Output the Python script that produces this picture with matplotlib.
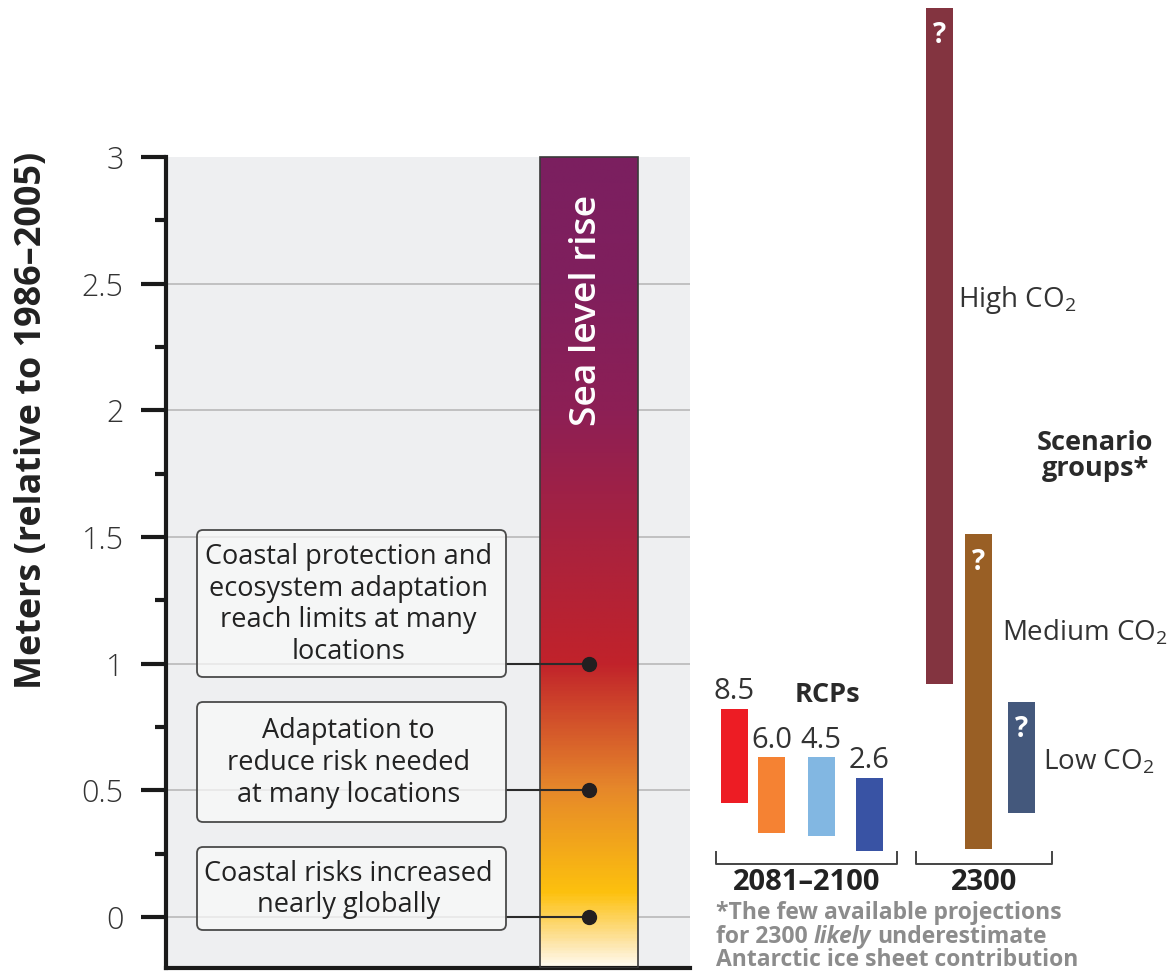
import numpy as np
import matplotlib
matplotlib.use("Agg")
import matplotlib.pyplot as plt
from matplotlib.colors import LinearSegmentedColormap
from matplotlib.patches import Rectangle, FancyBboxPatch
from matplotlib.font_manager import FontProperties

plt.rcParams['font.family'] = ['Open Sans', 'DejaVu Sans']
plt.rcParams['mathtext.fontset'] = 'custom'
plt.rcParams['mathtext.rm'] = 'Open Sans'

# ---- data -------------------------------------------------------------
y_ticks = [0, 0.5, 1, 1.5, 2, 2.5, 3]
y_tick_labels = ["0", "0.5", "1", "1.5", "2", "2.5", "3"]
y_minor = [0.25, 0.75, 1.25, 1.75, 2.25, 2.75]

risk_levels = [1.0, 0.5, 0.0]
risk_texts = [
    "Coastal protection and\necosystem adaptation\nreach limits at many\nlocations",
    "Adaptation to\nreduce risk needed\nat many locations",
    "Coastal risks increased\nnearly globally",
]

rcp_names = ["8.5", "6.0", "4.5", "2.6"]
rcp_low = [0.45, 0.33, 0.32, 0.26]
rcp_high = [0.82, 0.63, 0.63, 0.55]

group_names = ["High CO$_\\mathregular{2}$", "Medium CO$_\\mathregular{2}$", "Low CO$_\\mathregular{2}$"]
group_low = [0.92, 0.27, 0.41]
group_high = [3.59, 1.51, 0.85]

# gradient of the sea-level column: (level in m, colour)
grad_levels = [-0.21, -0.10, 0.09, 0.50, 1.00, 1.50, 2.00, 2.50, 3.00]
grad_colors = ["#fffcf5", "#fde3a0", "#fdc10e", "#e6882a", "#c1222b",
               "#a8223f", "#8d1f55", "#801f5d", "#7b1f60"]

# ---- figure -----------------------------------------------------------
W, H = 1169, 976
fig = plt.figure(figsize=(W / 100, H / 100), dpi=100)
renderer = fig.canvas.get_renderer()

PX_PER_M = 253.33
ZERO_PX = 917.0
AX_LEFT = 165.5
AX_BOTTOM_PX = 968.0
y_bot = (ZERO_PX - AX_BOTTOM_PX) / PX_PER_M
y_top = ZERO_PX / PX_PER_M

ax = fig.add_axes([AX_LEFT / W, (H - AX_BOTTOM_PX) / H, (W - AX_LEFT) / W, AX_BOTTOM_PX / H])
ax.set_xlim(AX_LEFT, W)
ax.set_ylim(y_bot, y_top)
ax.patch.set_alpha(0)

# overlay in pixel units for labels and callout boxes
lay = fig.add_axes([0, 0, 1, 1], zorder=3)
lay.set_xlim(0, W)
lay.set_ylim(H, 0)
lay.axis("off")
lay.patch.set_alpha(0)


def fit_size(s, target_px, **kw):
    prop = FontProperties(size=10, **kw)
    w = renderer.get_text_width_height_descent(s, prop, ismath=False)[0]
    return 10 * target_px / w


# panel background and grid
PANEL_RIGHT = 690
ax.add_patch(Rectangle((AX_LEFT, y_bot), PANEL_RIGHT - AX_LEFT, 3 - y_bot,
                       facecolor="#eeeff1", edgecolor="none", zorder=0))
ax.hlines(y_ticks[:-1], AX_LEFT + 2, PANEL_RIGHT, color="#bdbdbd", lw=1.3, zorder=1)

# axes styling
for side in ("top", "right"):
    ax.spines[side].set_visible(False)
ax.spines["left"].set_linewidth(3.0)
ax.spines["bottom"].set_linewidth(3.0)
ax.spines["left"].set_color("#1a1a1a")
ax.spines["bottom"].set_color("#1a1a1a")
ax.spines["left"].set_bounds(y_bot, 3)
ax.spines["bottom"].set_bounds(AX_LEFT, PANEL_RIGHT)
ax.set_yticks(y_ticks)
ax.set_yticklabels(y_tick_labels)
ax.set_yticks(y_minor, minor=True)
ax.tick_params(axis="y", which="major", length=18, width=3, color="#1a1a1a",
               pad=12, labelsize=22, labelcolor="#333333")
ax.tick_params(axis="y", which="minor", length=8, width=3, color="#1a1a1a")
for lbl in ax.get_yticklabels():
    lbl.set_fontweight("light")
ax.set_xticks([])

# sea-level column with gradient
COL_X0, COL_X1 = 540, 638
span = grad_levels[-1] - grad_levels[0]
cmap = LinearSegmentedColormap.from_list(
    "slr", [((l - grad_levels[0]) / span, c) for l, c in zip(grad_levels, grad_colors)])
vals = np.linspace(y_bot, 3, 600).reshape(-1, 1)
ax.imshow(vals, extent=[COL_X0, COL_X1, y_bot, 3], aspect="auto", origin="lower",
          cmap=cmap, vmin=grad_levels[0], vmax=grad_levels[-1], zorder=2,
          interpolation="bilinear")
ax.add_patch(Rectangle((COL_X0, y_bot), COL_X1 - COL_X0, 3 - y_bot, fill=False,
                       edgecolor="#3a3a3a", lw=1.2, zorder=3))
ax.set_xlim(AX_LEFT, W)
ax.set_ylim(y_bot, y_top)
ax.text((COL_X0 + COL_X1) / 2 - 2, 2.395, "Sea level rise", rotation=90, ha="center",
        va="center", color="white", fontsize=fit_size("Sea level rise", 232, weight="semibold"),
        fontweight="semibold", zorder=4)

# risk markers and their callout boxes
DOT_X = 589
BOX_X0, BOX_X1 = 197, 506
ax.hlines(risk_levels, BOX_X1, DOT_X, color="#2b2b2b", lw=1.5, zorder=4)
ax.plot([DOT_X] * len(risk_levels), risk_levels, "o", ms=10, color="#231f20", zorder=5)

box_rows = [(530, 677), (702, 822), (847, 930)]
box_fs = fit_size("Coastal protection and", 287)
for (t, b), txt in zip(box_rows, risk_texts):
    lay.add_patch(FancyBboxPatch((BOX_X0, t), BOX_X1 - BOX_X0, b - t,
                                 boxstyle="round,pad=0,rounding_size=6",
                                 facecolor=(0.975, 0.978, 0.978, 0.72),
                                 edgecolor="#4a4a4a", lw=1.3))
    lay.text((BOX_X0 + BOX_X1) / 2 - 3, (t + b) / 2 + 1, txt, ha="center", va="center",
             multialignment="center", fontsize=box_fs, color="#222222", linespacing=1.17)

# y-axis title
ylab = "Meters (relative to 1986\u20132005)"
lay.text(32, 420, ylab, rotation=90, ha="center", va="center", fontweight="bold",
         color="#222222", fontsize=fit_size(ylab, 540, weight="bold"))

# RCP projection ranges for 2081-2100
rcp_x = [734.5, 771.5, 821, 869.5]
rcp_colors = ["#ed1c24", "#f58233", "#82b7e2", "#3953a4"]
BAR_W = 27
ax.bar(rcp_x, np.subtract(rcp_high, rcp_low), bottom=rcp_low, width=BAR_W,
       color=rcp_colors, zorder=3)
for x, top, name in zip(rcp_x, rcp_high, rcp_names):
    ax.annotate(name, (x, top), xytext=(0, 2), textcoords="offset points",
                ha="center", va="bottom", fontsize=21, color="#333333")
lay.text(827, 695, "RCPs", ha="center", va="center", fontsize=19.5,
         fontweight="bold", color="#2a2a2a")

# scenario groups for 2300
grp_x = [939.5, 978.5, 1021.5]
grp_colors = ["#833440", "#995f25", "#44587c"]
ax.bar(grp_x, np.subtract(group_high, group_low), bottom=group_low, width=BAR_W,
       color=grp_colors, zorder=3)
for x, top in zip(grp_x, group_high):
    ax.annotate("?", (x, top), xytext=(0, -20), textcoords="offset points",
                ha="center", va="center", fontsize=20, fontweight="bold",
                color="white", zorder=4)
grp_label_pos = [(958, 300), (1002, 632), (1043, 762)]
for (px, py), name in zip(grp_label_pos, group_names):
    lay.text(px, py, name, ha="left", va="center", fontsize=20, color="#333333")
lay.text(1095, 456, "Scenario\ngroups*", ha="center", va="center", fontsize=19.5,
         fontweight="bold", color="#2a2a2a", linespacing=1.05)

# period brackets
for x0, x1, label in [(716, 897, "2081\u20132100"), (916, 1052, "2300")]:
    lay.plot([x0, x0, x1, x1], [852, 864, 864, 852], color="#444444", lw=1.4)
    lay.text((x0 + x1) / 2, 883, label, ha="center", va="center", fontsize=21,
             fontweight="bold", color="#222222")

# footnote
note_color = "#8c8c8c"
note_fs = fit_size("*The few available projections", 347, weight="bold")
lay.text(716, 913, "*The few available projections", ha="left", va="center",
         fontsize=note_fs, fontweight="bold", color=note_color)
p1 = lay.text(716, 937, "for 2300", ha="left", va="center", fontsize=note_fs,
              fontweight="bold", color=note_color)
p2 = lay.annotate("likely", xy=(1, 0.5), xycoords=p1, xytext=(0.27 * note_fs, 0),
                  textcoords="offset points", ha="left", va="center", fontsize=note_fs,
                  fontweight="bold", fontstyle="italic", color=note_color)
lay.annotate("underestimate", xy=(1, 0.5), xycoords=p2, xytext=(0.27 * note_fs, 0),
             textcoords="offset points", ha="left", va="center", fontsize=note_fs,
             fontweight="bold", color=note_color)
lay.text(716, 960, "Antarctic ice sheet contribution", ha="left", va="center",
         fontsize=note_fs, fontweight="bold", color=note_color)

fig.savefig("out.png", dpi=100, facecolor="white")
